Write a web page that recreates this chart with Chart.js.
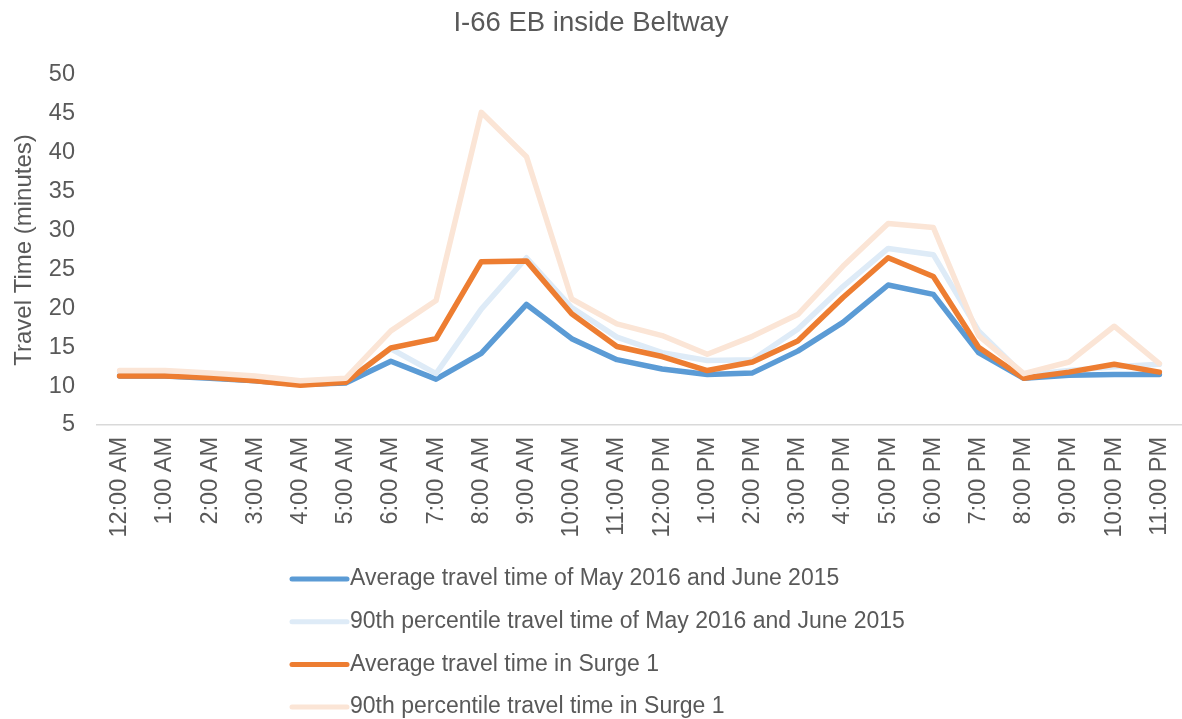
<!DOCTYPE html>
<html>
<head>
<meta charset="utf-8">
<script src="https://cdn.jsdelivr.net/npm/chart.js@4/dist/chart.umd.min.js"></script>
<style>
  html, body { margin: 0; padding: 0; background: #ffffff; }
  #wrap { width: 1182px; height: 719px; }
</style>
</head>
<body>
<div id="wrap"><canvas id="c" width="1182" height="719"></canvas></div>
<script>
const chartTitle = 'I-66 EB inside Beltway';
const yAxisTitle = 'Travel Time (minutes)';
const hours = ['12:00 AM','1:00 AM','2:00 AM','3:00 AM','4:00 AM','5:00 AM','6:00 AM','7:00 AM','8:00 AM','9:00 AM','10:00 AM','11:00 AM',
               '12:00 PM','1:00 PM','2:00 PM','3:00 PM','4:00 PM','5:00 PM','6:00 PM','7:00 PM','8:00 PM','9:00 PM','10:00 PM','11:00 PM'];

const avgBaseline = [11.3, 11.3, 11.0, 10.7, 10.2, 10.4, 13.2, 10.9, 14.2, 20.5, 16.1, 13.4, 12.2, 11.5, 11.7, 14.5, 18.2, 23.0, 21.8, 14.3, 11.0, 11.4, 11.5, 11.5];
const p90Baseline = [11.8, 11.8, 11.5, 11.1, 10.5, 10.7, 14.8, 11.6, 19.9, 26.5, 20.1, 16.3, 14.3, 13.3, 13.4, 17.3, 22.8, 27.7, 26.9, 17.1, 11.4, 12.0, 12.5, 12.8];
const avgSurge1  = [11.3, 11.3, 11.1, 10.7, 10.1, 10.5, 14.9, 16.1, 26.0, 26.1, 19.3, 15.1, 13.8, 12.0, 13.1, 15.8, 21.4, 26.5, 24.1, 15.0, 11.0, 11.8, 12.8, 11.8];
const p90Surge1  = [12.0, 12.0, 11.7, 11.3, 10.7, 11.0, 17.1, 21.0, 45.2, 39.5, 21.2, 18.0, 16.5, 14.1, 16.4, 19.2, 25.4, 30.9, 30.4, 16.5, 11.6, 13.1, 17.7, 12.9];

const seriesLabels = [
  'Average travel time of May 2016 and June 2015',
  '90th percentile travel time of May 2016 and June 2015',
  'Average travel time in Surge 1',
  '90th percentile travel time in Surge 1'
];
const seriesColors = ['#5B9BD5', '#DEEBF7', '#ED7D31', '#FBE5D6'];

const yMin = 5, yMax = 50, yStep = 5;
const textColor = '#595959';
const fontFamily = '"Liberation Sans", Arial, sans-serif';

function mk(i, data) {
  return {
    label: seriesLabels[i], data: data,
    borderColor: seriesColors[i], backgroundColor: seriesColors[i],
    borderWidth: 5.5, pointRadius: 0, pointHoverRadius: 0, tension: 0,
    borderJoinStyle: 'round', borderCapStyle: 'round', fill: false,
    order: 4 - i
  };
}

const legendPlugin = {
  id: 'vertLegend',
  afterDraw(chart) {
    const ctx = chart.ctx;
    ctx.save();
    const x0 = 292, lineLen = 55, rowH = 42.7, y0 = 579;
    chart.data.datasets.forEach((ds, i) => {
      const y = y0 + i * rowH;
      ctx.strokeStyle = ds.borderColor;
      ctx.lineWidth = 5;
      ctx.lineCap = 'round';
      ctx.beginPath();
      ctx.moveTo(x0, y);
      ctx.lineTo(x0 + lineLen, y);
      ctx.stroke();
      ctx.fillStyle = textColor;
      ctx.font = '23px ' + fontFamily;
      ctx.textBaseline = 'middle';
      ctx.textAlign = 'left';
      ctx.fillText(ds.label, x0 + lineLen + 3, y);
    });
    ctx.restore();
  }
};

new Chart(document.getElementById('c'), {
  type: 'line',
  data: {
    labels: hours,
    datasets: [mk(0, avgBaseline), mk(1, p90Baseline), mk(2, avgSurge1), mk(3, p90Surge1)]
  },
  plugins: [legendPlugin],
  options: {
    responsive: false,
    animation: false,
    layout: { padding: { top: 0, right: 0, bottom: 169, left: 0 } },
    plugins: {
      legend: { display: false },
      tooltip: { enabled: false },
      title: {
        display: true, text: chartTitle, color: textColor,
        font: { family: fontFamily, size: 27.5, weight: 'normal' },
        padding: { top: 7, bottom: 35 }
      }
    },
    scales: {
      x: {
        offset: true,
        grid: { display: false, drawTicks: false },
        border: { display: true, color: '#D9D9D9', width: 1.5 },
        ticks: {
          color: textColor, minRotation: 90, maxRotation: 90, autoSkip: false, padding: 12,
          font: { family: fontFamily, size: 23.5 }
        },
        afterFit(scale) { scale.height = 125; scale.paddingLeft = 0; scale.paddingRight = 0; }
      },
      y: {
        min: yMin, max: yMax,
        grid: { display: false, drawTicks: false },
        border: { display: false },
        ticks: {
          stepSize: yStep, color: textColor, padding: 22,
          font: { family: fontFamily, size: 23.5 }
        },
        title: {
          display: true, text: yAxisTitle, color: textColor,
          font: { family: fontFamily, size: 24 },
          padding: { top: 10, bottom: 0 }
        },
        afterFit(scale) { scale.width = 97; scale.paddingTop = 0; scale.paddingBottom = 0; }
      }
    }
  }
});
</script>
</body>
</html>
